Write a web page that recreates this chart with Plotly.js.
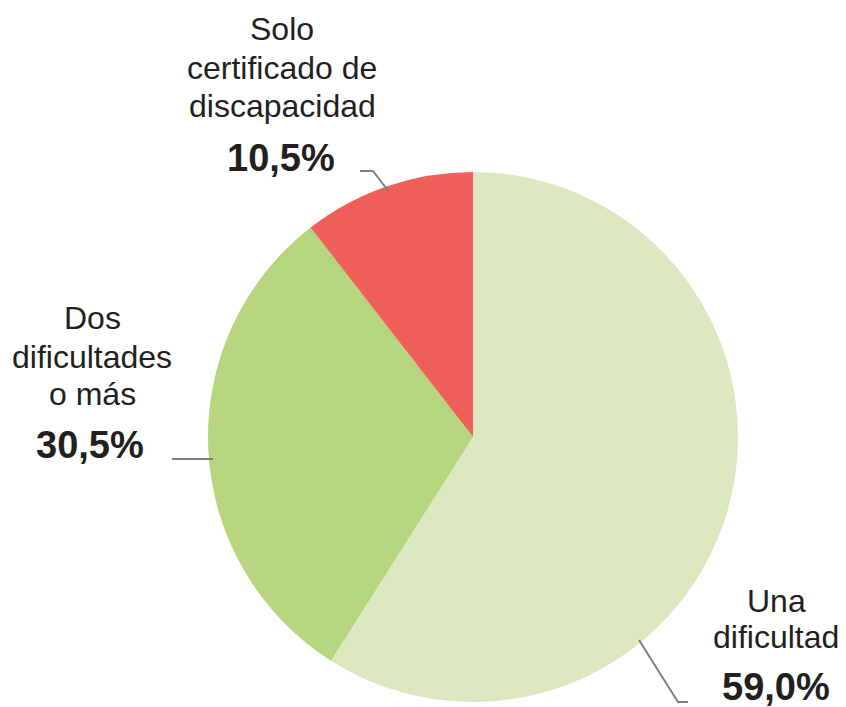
<!DOCTYPE html>
<html>
<head>
<meta charset="utf-8">
<script src="https://cdn.plot.ly/plotly-3.0.1.min.js"></script>
<style>html,body{margin:0;padding:0;background:#fff;}#chart{width:846px;height:707px;}</style>
</head>
<body>
<div id="chart"></div>
<script>
const categories = ["Una dificultad", "Dos dificultades o más", "Solo certificado de discapacidad"];
const labelLines = [["Una", "dificultad"], ["Dos", "dificultades", "o más"], ["Solo", "certificado de", "discapacidad"]];
const values = [59.0, 30.5, 10.5];
const colors = ["#dbe8c0", "#b5d57f", "#f0605b"];

const W = 846, H = 707;
const cx = 473, cy = 437, r = 265;
const px = x => x / W;
const py = y => 1 - y / H;

const fmt = v => v.toFixed(1).replace('.', ',') + '%';

// label placement (pixel centers)
const labelPos = [
  {tx: 776, ty: [601, 637], vx: 776, vy: 687},
  {tx: 92, ty: [318, 357, 394], vx: 90, vy: 445},
  {tx: 282, ty: [29, 68, 106], vx: 281, vy: 158}
];
const leaders = [
  "M 639 640 L 678 702 L 688 702",
  "M 172 459 L 213 459",
  "M 360 171 L 373 171 L 389 192"
];

const annotations = [];
categories.forEach((c, i) => {
  const p = labelPos[i];
  labelLines[i].forEach((ln, j) => {
    annotations.push({
      xref: 'paper', yref: 'paper', x: px(p.tx), y: py(p.ty[j]),
      xanchor: 'center', yanchor: 'middle', showarrow: false,
      text: ln, borderpad: 0,
      font: {family: 'Liberation Sans, Arial, sans-serif', size: 32, color: '#231f20'}
    });
  });
  annotations.push({
    xref: 'paper', yref: 'paper', x: px(p.vx), y: py(p.vy),
    xanchor: 'center', yanchor: 'middle', showarrow: false, borderpad: 0,
    text: '<b>' + fmt(values[i]) + '</b>',
    font: {family: 'Liberation Sans, Arial, sans-serif', size: 38, color: '#231f20'}
  });
});

const shapes = leaders.map(d => ({
  type: 'path', xref: 'paper', yref: 'paper',
  path: d.replace(/(\d+) (\d+)/g, (m, a, b) => px(+a).toFixed(5) + ',' + py(+b).toFixed(5)),
  line: {color: '#808080', width: 2}
}));

const trace = {
  type: 'pie',
  labels: categories,
  values: values,
  marker: {colors: colors, line: {color: '#ffffff', width: 0}},
  sort: false,
  direction: 'clockwise',
  rotation: 0,
  textinfo: 'none',
  hoverinfo: 'label+percent',
  domain: {x: [px(cx - r), px(cx + r)], y: [py(cy + r), py(cy - r)]}
};

Plotly.newPlot('chart', [trace], {
  width: W, height: H,
  margin: {l: 0, r: 0, t: 0, b: 0},
  showlegend: false,
  paper_bgcolor: '#ffffff',
  annotations: annotations,
  shapes: shapes
}, {displayModeBar: false, staticPlot: true});
</script>
</body>
</html>
